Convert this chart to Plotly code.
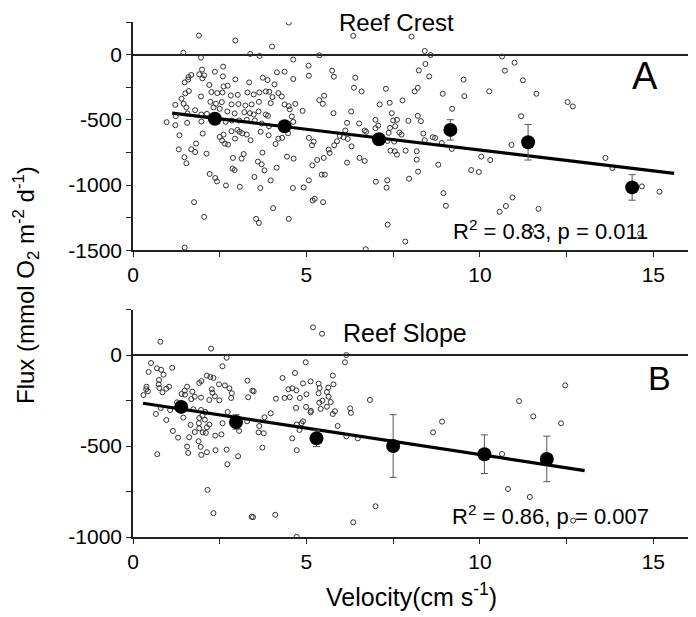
import plotly.graph_objects as go

# ---------------- data: Reef Crest (panel A) ----------------
crest_pts = [
(4.49,246),(1.90,146),(2.95,108),(4.01,62),(1.45,15),(3.38,5),(3.65,-10),(1.96,-23),(5.37,-5),(4.62,-38),(2.60,-92),(5.06,-85),(1.99,-115),(1.68,-156),(1.91,-151),(2.05,-159),(1.60,-172),(2.36,-131),(2.59,-167),(2.95,-190),(4.15,-136),(4.37,-131),(4.62,-187),(5.07,-162),(1.49,-213),(1.59,-192),(2.00,-182),(2.20,-233),(3.35,-213),(3.74,-177),(3.88,-195),(4.08,-228),(2.61,-244),(2.73,-238),(1.51,-297),(1.61,-279),(1.96,-321),(2.26,-287),(2.43,-295),(2.58,-290),(2.82,-313),(3.02,-308),(3.30,-290),(3.48,-305),(3.64,-290),(3.83,-282),(3.93,-285),(4.02,-326),(4.19,-295),(4.29,-321),(5.37,-349),(1.40,-338),(1.22,-385),(1.46,-377),(1.54,-405),(2.23,-362),(2.39,-377),(2.56,-364),(2.84,-382),(3.04,-379),(3.24,-390),(3.42,-382),(3.63,-362),(3.97,-372),(4.37,-382),(4.49,-395),(4.68,-377),(1.79,-426),(2.32,-405),(2.50,-415),(2.72,-436),(2.93,-451),(3.21,-441),(3.37,-449),(3.48,-459),(3.62,-436),(3.83,-459),(3.89,-469),(4.52,-420),(4.89,-431),(1.23,-472),(1.57,-451),(1.97,-459),(2.13,-454),(4.58,-474),(0.97,-518),(1.22,-541),(1.56,-523),(1.97,-513),(2.67,-515),(2.85,-505),(3.06,-505),(3.28,-500),(3.51,-505),(3.71,-528),(3.92,-549),(4.62,-515),(2.01,-605),(1.34,-618),(2.61,-613),(2.84,-587),(3.01,-577),(3.07,-592),(3.15,-603),(3.28,-613),(3.68,-592),(3.91,-618),(4.11,-685),(4.19,-644),(4.30,-638),(4.47,-603),(5.07,-638),(5.16,-695),(5.21,-667),(2.50,-631),(2.57,-659),(2.65,-682),(2.74,-690),(2.94,-644),(3.39,-656),(1.82,-682),(1.32,-726),(1.68,-726),(1.79,-746),(2.12,-759),(1.48,-787),(1.54,-833),(3.73,-751),(3.19,-762),(3.13,-797),(2.88,-792),(3.60,-820),(3.71,-841),(4.44,-782),(4.63,-797),(5.31,-808),(5.17,-849),(2.87,-874),(2.93,-885),(3.79,-887),(4.14,-867),(2.21,-915),(2.37,-946),(2.42,-972),(2.68,-1003),(3.08,-1013),(3.50,-938),(3.67,-1023),(3.97,-964),(4.61,-1023),(4.92,-1018),(5.07,-964),(5.18,-1118),(5.24,-1105),(1.76,-1131),(4.04,-1177),(2.05,-1244),(3.55,-1259),(3.63,-1290),(4.49,-1259),(1.49,-1479),
(6.35,144),(8.03,138),(8.41,28),(8.58,-3),(10.64,-15),(10.72,-123),(8.43,-72),(8.24,-121),(8.54,-167),(5.74,-123),(5.79,-169),(6.41,-177),(6.37,-254),(6.59,-282),(7.29,-262),(8.21,-254),(8.12,-282),(9.53,-192),(9.55,-318),(8.93,-300),(10.27,-282),(5.51,-315),(5.47,-377),(7.11,-382),(7.40,-369),(7.77,-351),(9.20,-415),(5.78,-449),(6.29,-436),(7.46,-449),(8.21,-469),(8.30,-510),(7.94,-508),(7.61,-500),(7.50,-505),(6.99,-500),(6.52,-528),(6.17,-523),(7.07,-544),(7.41,-562),(7.56,-549),(6.68,-582),(6.72,-592),(6.12,-582),(7.68,-597),(7.74,-613),(7.37,-600),(6.99,-564),(8.37,-605),(8.64,-633),(8.71,-638),(8.41,-656),(8.90,-677),(5.96,-623),(6.07,-633),(6.19,-646),(5.88,-664),(5.80,-695),(6.30,-703),(5.64,-728),(5.67,-754),(5.50,-792),(6.17,-828),(6.53,-792),(6.68,-815),(7.34,-662),(7.53,-667),(7.42,-736),(7.55,-741),(7.61,-767),(7.86,-736),(8.18,-741),(8.18,-805),(8.22,-897),(8.80,-844),(9.19,-723),(10.04,-782),(10.30,-808),(9.75,-885),(9.97,-900),(7.00,-974),(7.33,-964),(7.31,-1020),(7.96,-951),(8.95,-1062),(9.02,-1159),(10.75,-1161),(10.57,-1205),(5.44,-920),(5.53,-920),(5.48,-1131),(7.34,-1303),(7.85,-1433),(6.71,-1492),
(11.00,-62),(11.24,-197),(11.63,-300),(12.53,-364),(12.68,-397),(11.19,-472),(10.91,-692),(13.62,-792),(13.82,-869),(14.67,-1010),(15.18,-1051),(10.94,-1095),(11.69,-1182),(14.62,-1372),(11.48,-1351),
]
crest_vel = [p[0] for p in crest_pts]
crest_flux = [p[1] for p in crest_pts]

crest_mean_vel = [2.36, 4.37, 7.09, 9.15, 11.39, 14.39]
crest_mean_flux = [-492, -549, -649, -577, -672, -1018]
crest_mean_err = [25, 25, 30, 78, 136, 98]
crest_fit_vel = [1.13, 15.6]
crest_fit_flux = [-449, -910]

# ---------------- data: Reef Slope (panel B) ----------------
slope_pts = [
(0.79,73),(2.25,35),(2.70,-15),(0.52,-44),(0.45,-93),(0.69,-73),(0.81,-81),(0.88,-108),(1.13,-70),(2.58,-62),(0.75,-137),(0.74,-161),(0.39,-174),(0.38,-188),(0.43,-199),(0.30,-220),(0.76,-181),(0.85,-205),(0.96,-185),(1.04,-174),(2.13,-113),(2.23,-121),(2.32,-126),(1.97,-143),(1.91,-154),(3.30,-141),(3.44,-196),(1.56,-174),(1.49,-196),(1.71,-201),(1.50,-218),(1.40,-214),(1.68,-242),(1.78,-229),(1.96,-234),(2.27,-188),(2.29,-207),(2.36,-227),(2.20,-247),(2.49,-249),(2.48,-161),(2.65,-167),(2.78,-183),(2.85,-210),(2.83,-236),(3.32,-232),(1.27,-260),(0.80,-291),(0.66,-324),(1.07,-302),(0.96,-357),(1.45,-344),(1.74,-298),(1.96,-302),(2.08,-313),(2.00,-333),(1.91,-346),(2.07,-355),(1.66,-384),(1.90,-375),(1.78,-423),(1.91,-403),(2.01,-425),(2.10,-428),(2.13,-397),(2.20,-382),(1.15,-417),(1.30,-454),(1.62,-452),(1.89,-474),(1.95,-505),(1.56,-503),(1.59,-538),(1.97,-549),(2.13,-534),(2.37,-443),(2.55,-436),(2.58,-375),(2.38,-523),(2.70,-520),(3.03,-556),(2.72,-600),(2.73,-313),(3.06,-417),(3.29,-364),(0.70,-545),(2.15,-741),(2.32,-869),(3.42,-889),
(5.19,152),(5.45,117),(6.15,0),(6.11,-40),(4.98,-40),(4.67,-99),(4.31,-126),(5.76,-113),(5.12,-145),(4.90,-156),(5.35,-157),(5.78,-161),(5.63,-179),(4.48,-188),(4.59,-183),(4.71,-194),(5.38,-181),(5.59,-203),(3.48,-199),(5.00,-216),(5.35,-210),(5.64,-229),(4.12,-240),(4.37,-236),(4.52,-232),(4.81,-236),(5.46,-251),(5.37,-262),(5.70,-258),(4.70,-291),(4.99,-285),(5.13,-307),(5.12,-315),(5.41,-296),(5.59,-284),(5.82,-309),(5.76,-324),(6.26,-293),(6.28,-318),(6.83,-247),(3.97,-320),(3.79,-342),(3.64,-390),(3.62,-425),(3.77,-430),(3.73,-509),(4.86,-375),(4.90,-364),(4.72,-382),(4.80,-412),(4.59,-458),(4.72,-523),(5.90,-390),(6.15,-447),(6.48,-458),(3.46,-891),(4.10,-878),(6.35,-919),(4.72,-999),
(8.65,-425),(8.91,-366),(11.13,-253),(11.54,-337),(12.46,-167),(12.34,-375),(10.64,-544),(10.81,-736),(11.44,-780),(6.99,-831),(12.69,-910),
]
slope_vel = [p[0] for p in slope_pts]
slope_flux = [p[1] for p in slope_pts]

slope_mean_vel = [1.39, 2.97, 5.29, 7.50, 10.13, 11.93]
slope_mean_flux = [-285, -368, -458, -500, -545, -571]
slope_mean_err = [20, 40, 45, 172, 106, 125]
slope_fit_vel = [0.29, 13.02]
slope_fit_flux = [-265, -635]

# tick labels
x_tick_vals = [0, 5, 10, 15]
x_tick_text = ["0", "5", "10", "15"]
crest_ytick_vals = [0, -500, -1000, -1500]
crest_ytick_text = ["0", "-500", "-1000", "-1500"]
slope_ytick_vals = [0, -500, -1000]
slope_ytick_text = ["0", "-500", "-1000"]

FONT = "Liberation Sans, Arial, sans-serif"

fig = go.Figure()

def add_panel(vel, flux, mv, mf, me, fv, ff, xa, ya):
    fig.add_trace(go.Scatter(x=vel, y=flux, mode="markers", xaxis=xa, yaxis=ya,
                             marker=dict(symbol="circle-open", size=5, color="#333",
                                         line=dict(width=1, color="#333")),
                             showlegend=False, hoverinfo="skip"))
    fig.add_trace(go.Scatter(x=fv, y=ff, mode="lines", xaxis=xa, yaxis=ya,
                             line=dict(color="black", width=3.2), showlegend=False))
    fig.add_trace(go.Scatter(x=mv, y=mf, mode="markers", xaxis=xa, yaxis=ya,
                             marker=dict(symbol="circle", size=14, color="black"),
                             error_y=dict(type="data", array=me, visible=True,
                                          color="#555", thickness=1, width=3.5),
                             showlegend=False))

add_panel(crest_vel, crest_flux, crest_mean_vel, crest_mean_flux, crest_mean_err,
          crest_fit_vel, crest_fit_flux, "x", "y")
add_panel(slope_vel, slope_flux, slope_mean_vel, slope_mean_flux, slope_mean_err,
          slope_fit_vel, slope_fit_flux, "x2", "y2")

xcommon = dict(range=[0, 16], showline=True, linecolor="#222", linewidth=1.5,
               ticks="outside", ticklen=5, tickwidth=1.2, tickcolor="#222",
               tickmode="array", tickvals=x_tick_vals, ticktext=x_tick_text,
               showgrid=False, zeroline=False,
               minor=dict(tickmode="linear", tick0=0, dtick=2.5, ticks="outside",
                          ticklen=5, tickwidth=1.2, tickcolor="#222"),
               tickfont=dict(family=FONT, size=21, color="black"), mirror=False)
ycommon = dict(showline=True, linecolor="#222", linewidth=1.5,
               ticks="outside", ticklen=5, tickwidth=1.2, tickcolor="#222",
               tickmode="array", showgrid=False, zeroline=True, zerolinecolor="#222",
               zerolinewidth=1.5,
               minor=dict(tickmode="linear", tick0=0, dtick=250, ticks="outside",
                          ticklen=5, tickwidth=1.2, tickcolor="#222"),
               tickfont=dict(family=FONT, size=21, color="black"))

# page body has an 8px margin, so the figure is drawn 8px smaller and offset
fig.update_layout(
    width=688, height=609,
    margin=dict(l=125, r=8, t=14, b=80),
    paper_bgcolor="white", plot_bgcolor="white",
    xaxis=dict(domain=[0, 1], anchor="y", **xcommon),
    yaxis=dict(domain=[0.5567, 1.0], anchor="x", range=[-1500, 250],
               tickvals=crest_ytick_vals, ticktext=crest_ytick_text, **ycommon),
    xaxis2=dict(domain=[0, 1], anchor="y2", **xcommon),
    yaxis2=dict(domain=[0, 0.4417], anchor="x2", range=[-1000, 250],
                tickvals=slope_ytick_vals, ticktext=slope_ytick_text, **ycommon),
    font=dict(family=FONT, color="black"),
)

ann = [
    dict(text="Reef Crest", x=0.474, y=1.0, size=24),
    dict(text="Reef Slope", x=0.49, y=0.396, size=25),
    dict(text="A", x=0.9225, y=0.895, size=38),
    dict(text="B", x=0.9495, y=0.3087, size=34),
    dict(text="R<sup>2</sup> = 0.83, p = 0.011", x=0.752, y=0.596, size=22),
    dict(text="R<sup>2</sup> = 0.86, p = 0.007", x=0.753, y=0.0427, size=22),
    dict(text="Velocity(cm s<sup>-1</sup>)", x=0.501, y=-0.1126, size=25),
]
for a in ann:
    fig.add_annotation(text=a["text"], x=a["x"], y=a["y"], xref="paper", yref="paper",
                       xanchor="center", yanchor="middle", showarrow=False,
                       font=dict(family=FONT, size=a["size"], color="black"))
fig.add_annotation(text="Flux (mmol O<sub>2</sub> m<sup>-2</sup> d<sup>-1</sup>)",
                   x=(26 - 133) / 555, y=(537 - 285) / 515, xref="paper", yref="paper",
                   xanchor="center", yanchor="middle", showarrow=False, textangle=-90,
                   font=dict(family=FONT, size=24, color="black"))

fig.write_html("out.html")
